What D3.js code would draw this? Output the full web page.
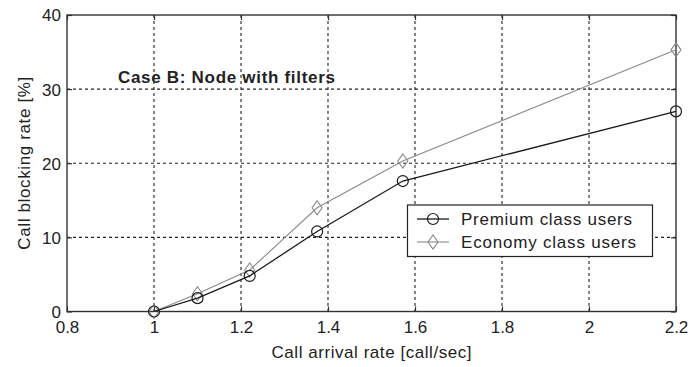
<!DOCTYPE html>
<html>
<head>
<meta charset="utf-8">
<script src="https://cdn.jsdelivr.net/npm/d3@7"></script>
<style>
  html, body { margin: 0; padding: 0; background: #fff; }
  svg { display: block; font-family: "Liberation Sans", Arial, sans-serif; }
</style>
</head>
<body>
<svg id="chart" width="690" height="367"></svg>
<script>
// Arrival rates (call/sec) and blocking rates (%) for the two user classes
const arrivalRate = [1.0, 1.1, 1.22, 1.375, 1.572, 2.2];
const premiumBlocking = [0.0, 1.8, 4.8, 10.8, 17.6, 27.0];
const economyBlocking = [0.0, 2.4, 5.6, 14.0, 20.3, 35.3];
const xTicks = [0.8, 1, 1.2, 1.4, 1.6, 1.8, 2, 2.2];
const yTicks = [0, 10, 20, 30, 40];
const seriesNames = ["Premium class users", "Economy class users"];
const caseTitle = "Case B: Node with filters";
const xLabel = "Call arrival rate [call/sec]";
const yLabel = "Call blocking rate [%]";

const svg = d3.select("#chart");
const m = { left: 67, right: 676, top: 15, bottom: 311.5 };
const fontSize = 17;

const x = d3.scaleLinear().domain([0.8, 2.2]).range([m.left, m.right]);
const y = d3.scaleLinear().domain([0, 40]).range([m.bottom, m.top]);

const axisColor = "#333";
const textColor = "#222";
const fmt = d => String(d);

// dashed grid
const grid = svg.append("g");
xTicks.slice(1, -1).forEach(t => {
  grid.append("line")
    .attr("x1", x(t)).attr("x2", x(t))
    .attr("y1", m.top).attr("y2", m.bottom)
    .attr("stroke", "#222").attr("stroke-width", 1.1)
    .attr("stroke-dasharray", "3,3");
});
yTicks.slice(1, -1).forEach(t => {
  grid.append("line")
    .attr("x1", m.left).attr("x2", m.right)
    .attr("y1", y(t)).attr("y2", y(t))
    .attr("stroke", "#222").attr("stroke-width", 1.1)
    .attr("stroke-dasharray", "3,3");
});

// axes: bottom/left carry labels, top/right carry ticks only (all ticks point inward)
const tickLen = 5;
const gx = svg.append("g").attr("transform", `translate(0,${m.bottom})`)
  .call(d3.axisBottom(x).tickValues(xTicks).tickFormat(fmt).tickSizeInner(-tickLen).tickSizeOuter(0));
const gxt = svg.append("g").attr("transform", `translate(0,${m.top})`)
  .call(d3.axisTop(x).tickValues(xTicks).tickFormat("").tickSizeInner(-tickLen).tickSizeOuter(0));
const gy = svg.append("g").attr("transform", `translate(${m.left},0)`)
  .call(d3.axisLeft(y).tickValues(yTicks).tickFormat(fmt).tickSizeInner(-tickLen).tickSizeOuter(0));
const gyr = svg.append("g").attr("transform", `translate(${m.right},0)`)
  .call(d3.axisRight(y).tickValues(yTicks).tickFormat("").tickSizeInner(-tickLen).tickSizeOuter(0));

[gx, gxt, gy, gyr].forEach(g => {
  g.select(".domain").remove();
  g.selectAll(".tick line").attr("stroke", axisColor).attr("stroke-width", 1.2);
  g.selectAll("text").attr("font-size", fontSize).attr("fill", textColor)
    .attr("font-family", "'Liberation Sans', Arial, sans-serif");
});
gx.selectAll("text").attr("y", 21.5).attr("dy", "0");
gy.selectAll("text").attr("x", -6).attr("dy", "0.35em");

// plot frame
svg.append("rect")
  .attr("x", m.left).attr("y", m.top)
  .attr("width", m.right - m.left).attr("height", m.bottom - m.top)
  .attr("fill", "none").attr("stroke", axisColor).attr("stroke-width", 1.4);

// series
const series = [
  { name: seriesNames[0], values: premiumBlocking, color: "#1a1a1a", width: 1.3, marker: "circle" },
  { name: seriesNames[1], values: economyBlocking, color: "#8a8a8a", width: 1.1, marker: "diamond" }
];

const line = d3.line().x(d => x(d[0])).y(d => y(d[1]));
const diamond = (cx, cy) => `M${cx},${cy - 7}L${cx + 5},${cy}L${cx},${cy + 7}L${cx - 5},${cy}Z`;

function drawMarker(g, s, cx, cy) {
  if (s.marker === "circle") {
    g.append("circle").attr("cx", cx).attr("cy", cy).attr("r", 5.5)
      .attr("fill", "none").attr("stroke", s.color).attr("stroke-width", 1.2);
  } else {
    g.append("path").attr("d", diamond(cx, cy))
      .attr("fill", "none").attr("stroke", s.color).attr("stroke-width", 1.1);
  }
}

// economy first so the premium curve sits on top
[series[1], series[0]].forEach(s => {
  const pts = arrivalRate.map((r, i) => [r, s.values[i]]);
  const g = svg.append("g");
  g.append("path").attr("d", line(pts))
    .attr("fill", "none").attr("stroke", s.color).attr("stroke-width", s.width);
  pts.forEach(p => drawMarker(g, s, x(p[0]), y(p[1])));
});

// case annotation
svg.append("text")
  .attr("x", 118).attr("y", 82.5)
  .attr("font-size", fontSize).attr("font-weight", "bold").attr("fill", textColor)
  .attr("textLength", 217).attr("lengthAdjust", "spacing")
  .text(caseTitle);

// legend
const lg = svg.append("g");
lg.append("rect").attr("x", 407.5).attr("y", 205).attr("width", 245).attr("height", 51.5)
  .attr("fill", "#fff").attr("stroke", "#222").attr("stroke-width", 1.2);
const legendWidths = [171, 175];
series.forEach((s, i) => {
  const cy = 219 + i * 23;
  lg.append("line").attr("x1", 417).attr("x2", 449).attr("y1", cy).attr("y2", cy)
    .attr("stroke", s.color).attr("stroke-width", s.width);
  drawMarker(lg, s, 433, cy);
  lg.append("text").attr("x", 461).attr("y", cy).attr("dy", "0.35em")
    .attr("font-size", fontSize).attr("fill", textColor)
    .attr("textLength", legendWidths[i]).attr("lengthAdjust", "spacing")
    .text(s.name);
});

// axis titles
svg.append("text")
  .attr("x", (m.left + m.right) / 2).attr("y", 357.5)
  .attr("text-anchor", "middle").attr("font-size", fontSize).attr("fill", textColor)
  .attr("textLength", 200).attr("lengthAdjust", "spacing")
  .text(xLabel);
svg.append("text")
  .attr("transform", `translate(29.5,${(m.top + m.bottom) / 2}) rotate(-90)`)
  .attr("text-anchor", "middle").attr("font-size", fontSize).attr("fill", textColor)
  .attr("textLength", 173).attr("lengthAdjust", "spacing")
  .text(yLabel);
</script>
</body>
</html>
